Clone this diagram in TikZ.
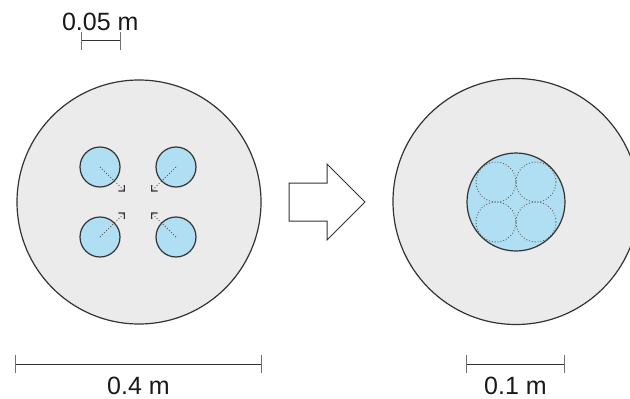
\documentclass[tikz,border=0pt]{standalone}
\usepackage{fontspec}
\setmainfont{Liberation Sans}
\usetikzlibrary{arrows.meta}
\definecolor{bgray}{HTML}{EBEBEB}
\definecolor{lblue}{HTML}{B0DEF3}
\definecolor{edge}{HTML}{333333}
\begin{document}
\begin{tikzpicture}[x=1pt,y=-1pt,
  big/.style={draw=edge,line width=1.2pt,fill=bgray},
  pipe/.style={draw=edge,line width=1.2pt,fill=lblue},
  ghost/.style={draw=edge!80,line width=0.9pt,dotted},
  move/.style={draw=edge!85,line width=0.9pt,dotted,-{Straight Barb[angle=90:5pt 1,line width=1.2pt,sep=0pt,color=edge]}},
  bar/.style={draw=edge,line width=1pt},
  tick/.style={draw=edge!70,line width=1pt},
  lbl/.style={anchor=base,inner sep=0pt,font=\fontsize{25}{30}\selectfont,text=black!90}]
\useasboundingbox (0,0) rectangle (630,399);
\clip (0,0) rectangle (630,399);
% left big circle
\node[big,circle,minimum size=244pt,inner sep=0pt] (L) at (139,202) {};
\foreach \n/\x/\y in {a/100/167,b/176/167,c/100/237,d/176/237}
  \node[pipe,circle,minimum size=40pt,inner sep=0pt] (\n) at (\x,\y) {};
\coordinate (ta) at (125,191.5);
\coordinate (tb) at (151,191.5);
\coordinate (tc) at (125,212.5);
\coordinate (td) at (151,212.5);
\draw[move] (a.center) -- (ta);
\draw[move] (b.center) -- (tb);
\draw[move] (c.center) -- (tc);
\draw[move] (d.center) -- (td);
% right big circle
\node[big,circle,minimum size=246pt,inner sep=0pt] (R) at (516,201.5) {};
\node[pipe,circle,minimum size=98pt,inner sep=0pt] (P) at (516,202) {};
\foreach \n/\x/\y in {p/496/182,q/536/182,r/496/222,s/536/222}
  \node[ghost,circle,minimum size=40pt,inner sep=0pt] (\n) at (\x,\y) {};
% block arrow
\draw[draw=edge,line width=1pt,fill=white,line join=miter]
  (289,183) -- (327,183) -- (327,164) -- (365,202) -- (327,240) -- (327,221) -- (289,221) -- cycle;
% top scale bar
\coordinate (s1) at (81,40.7);
\coordinate (s2) at (120,40.7);
\draw[bar] (s1) -- (s2);
\draw[tick] ([yshift=-9.5pt]s1) -- ([yshift=9pt]s1);
\draw[tick] ([yshift=-9.5pt]s2) -- ([yshift=9pt]s2);
\node[lbl] (t1) at (100.3,30.5) {0.05 m};
% bottom left scale bar
\coordinate (b1) at (15.5,364);
\coordinate (b2) at (261,364);
\draw[bar] (b1) -- (b2);
\draw[tick] ([yshift=-9pt]b1) -- ([yshift=9.5pt]b1);
\draw[tick] ([yshift=-9pt]b2) -- ([yshift=9.5pt]b2);
\node[lbl] (t2) at (138.5,394.5) {0.4 m};
% bottom right scale bar
\coordinate (c1) at (466.5,364);
\coordinate (c2) at (564.5,364);
\draw[bar] (c1) -- (c2);
\draw[tick] ([yshift=-9pt]c1) -- ([yshift=9.5pt]c1);
\draw[tick] ([yshift=-9pt]c2) -- ([yshift=9.5pt]c2);
\node[lbl] (t3) at (515.5,394.5) {0.1 m};
\end{tikzpicture}
\end{document}
